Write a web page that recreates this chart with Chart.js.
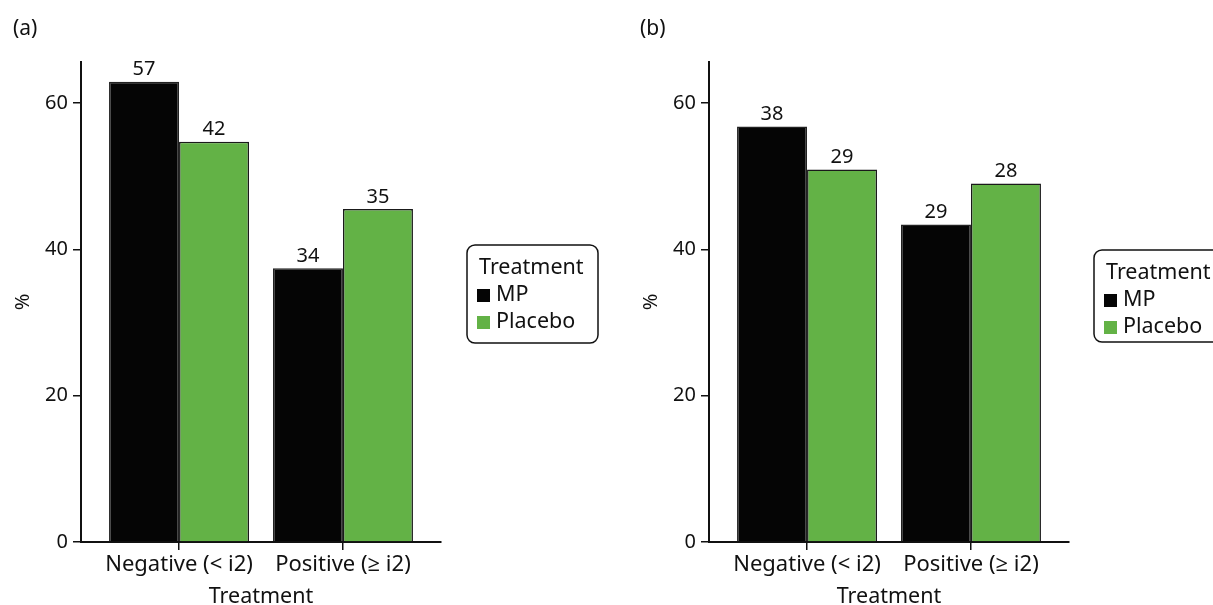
<!DOCTYPE html>
<html>
<head>
<meta charset="utf-8">
<script src="https://cdn.jsdelivr.net/npm/chart.js@4"></script>
<style>
  html, body { margin: 0; padding: 0; background: #fff; overflow: hidden; }
  .panel { position: absolute; top: 0; height: 605px; }
  #panelA { left: 0; width: 606px; }
  #panelB { left: 606px; width: 607px; }
</style>
</head>
<body>
<div class="panel" id="panelA"><canvas id="chartA"></canvas></div>
<div class="panel" id="panelB"><canvas id="chartB"></canvas></div>
<script>
// categories on the x axis
const categories = ['Negative (< i2)', 'Positive (\u2265 i2)'];
const seriesNames = ['MP', 'Placebo'];
const yTicks = [0, 20, 40, 60];
const yMax = 65.6;

// panel (a): percentages and counts shown above bars
const mpA = [62.9, 37.4];
const placeboA = [54.7, 45.5];
const mpCountsA = [57, 34];
const placeboCountsA = [42, 35];

// panel (b)
const mpB = [56.8, 43.4];
const placeboB = [50.9, 49.0];
const mpCountsB = [38, 29];
const placeboCountsB = [29, 28];

const MP_COLOR = '#050505';
const PLACEBO_COLOR = '#63b246';
const FONT = "'Noto Sans', 'Open Sans', sans-serif";

Chart.defaults.font.family = FONT;
Chart.defaults.font.size = 20;
Chart.defaults.color = '#111';

// counts above bars, panel letter and the boxed legend
const extrasPlugin = {
    id: 'extras',
    afterDatasetsDraw(chart, args, opts) {
        const ctx = chart.ctx;
        ctx.save();
        ctx.fillStyle = '#111';
        ctx.font = '20px ' + FONT;
        ctx.textAlign = 'center';
        ctx.textBaseline = 'bottom';
        chart.data.datasets.forEach((ds, di) => {
            const meta = chart.getDatasetMeta(di);
            meta.data.forEach((bar, i) => {
                ctx.fillText(String(ds.counts[i]), bar.x, bar.y - 2);
            });
        });

        // panel letter
        ctx.font = '21px ' + FONT;
        ctx.textAlign = 'left';
        ctx.textBaseline = 'middle';
        ctx.fillText(opts.panel, opts.panelX, 29);

        // legend box
        const lg = opts.legend;
        ctx.beginPath();
        ctx.lineWidth = 1.5;
        ctx.strokeStyle = '#111';
        ctx.roundRect(lg.x, lg.y, lg.w, lg.h, 8);
        ctx.stroke();
        ctx.font = '21.5px ' + FONT;
        ctx.fillText('Treatment', lg.x + 12, lg.y + 23);
        chart.data.datasets.forEach((ds, di) => {
            const cy = lg.y + 50 + di * 27;
            ctx.fillStyle = ds.backgroundColor;
            ctx.fillRect(lg.x + 10, cy - 6, 13, 13);
            ctx.fillStyle = '#111';
            ctx.fillText(ds.label, lg.x + 29, cy);
        });
        ctx.restore();
    }
};

function makeChart(id, mp, placebo, mpCounts, placeboCounts, panel, panelX, padding, legend) {
    const toPoints = arr => arr.map((v, i) => ({ x: i, y: v }));
    return new Chart(document.getElementById(id), {
        type: 'bar',
        data: {
            datasets: [{
                label: seriesNames[0],
                data: toPoints(mp),
                counts: mpCounts,
                backgroundColor: MP_COLOR,
                borderColor: '#222',
                borderWidth: 1.5
            }, {
                label: seriesNames[1],
                data: toPoints(placebo),
                counts: placeboCounts,
                backgroundColor: PLACEBO_COLOR,
                borderColor: '#1a1a1a',
                borderWidth: 1.5
            }]
        },
        options: {
            responsive: true,
            maintainAspectRatio: false,
            animation: false,
            layout: { padding: padding },
            plugins: {
                legend: { display: false },
                tooltip: { enabled: false },
                extras: { panel: panel, panelX: panelX, legend: legend }
            },
            datasets: {
                bar: { categoryPercentage: 0.854, barPercentage: 1.0 }
            },
            scales: {
                x: {
                    type: 'linear',
                    offset: false,
                    bounds: 'data',
                    min: -0.598,
                    max: 1.598,
                    afterBuildTicks: s => { s.ticks = [{ value: 0 }, { value: 1 }]; },
                    afterFit: s => { s.height = 63; },
                    grid: { offset: false, drawOnChartArea: false, tickLength: 8, color: '#111', lineWidth: 1.5 },
                    border: { color: '#111', width: 2 },
                    ticks: {
                        padding: 2,
                        maxRotation: 0,
                        color: '#111',
                        font: { size: 22 },
                        callback: v => categories[v]
                    },
                    title: {
                        display: true,
                        text: 'Treatment',
                        color: '#111',
                        font: { size: 21.5, lineHeight: 1 },
                        padding: { top: 0, bottom: -3 }
                    }
                },
                y: {
                    min: 0,
                    max: yMax,
                    afterBuildTicks: s => { s.ticks = yTicks.map(v => ({ value: v })); },
                    afterFit: s => { s.width = 81; },
                    grid: { drawOnChartArea: false, tickLength: 8, color: '#111', lineWidth: 1.5 },
                    border: { color: '#111', width: 2 },
                    ticks: { padding: 5, color: '#111' },
                    title: {
                        display: true,
                        text: '%',
                        color: '#111',
                        font: { size: 20 },
                        padding: { top: 11, bottom: 0 }
                    }
                }
            }
        },
        plugins: [extrasPlugin]
    });
}

makeChart('chartA', mpA, placeboA, mpCountsA, placeboCountsA, '(a)', 13,
    { left: 0, top: 62, right: 165, bottom: 0 },
    { x: 467, y: 245, w: 131, h: 98 });

makeChart('chartB', mpB, placeboB, mpCountsB, placeboCountsB, '(b)', 34,
    { left: 22, top: 62, right: 144, bottom: 0 },
    { x: 488, y: 250, w: 140, h: 92 });
</script>
</body>
</html>
